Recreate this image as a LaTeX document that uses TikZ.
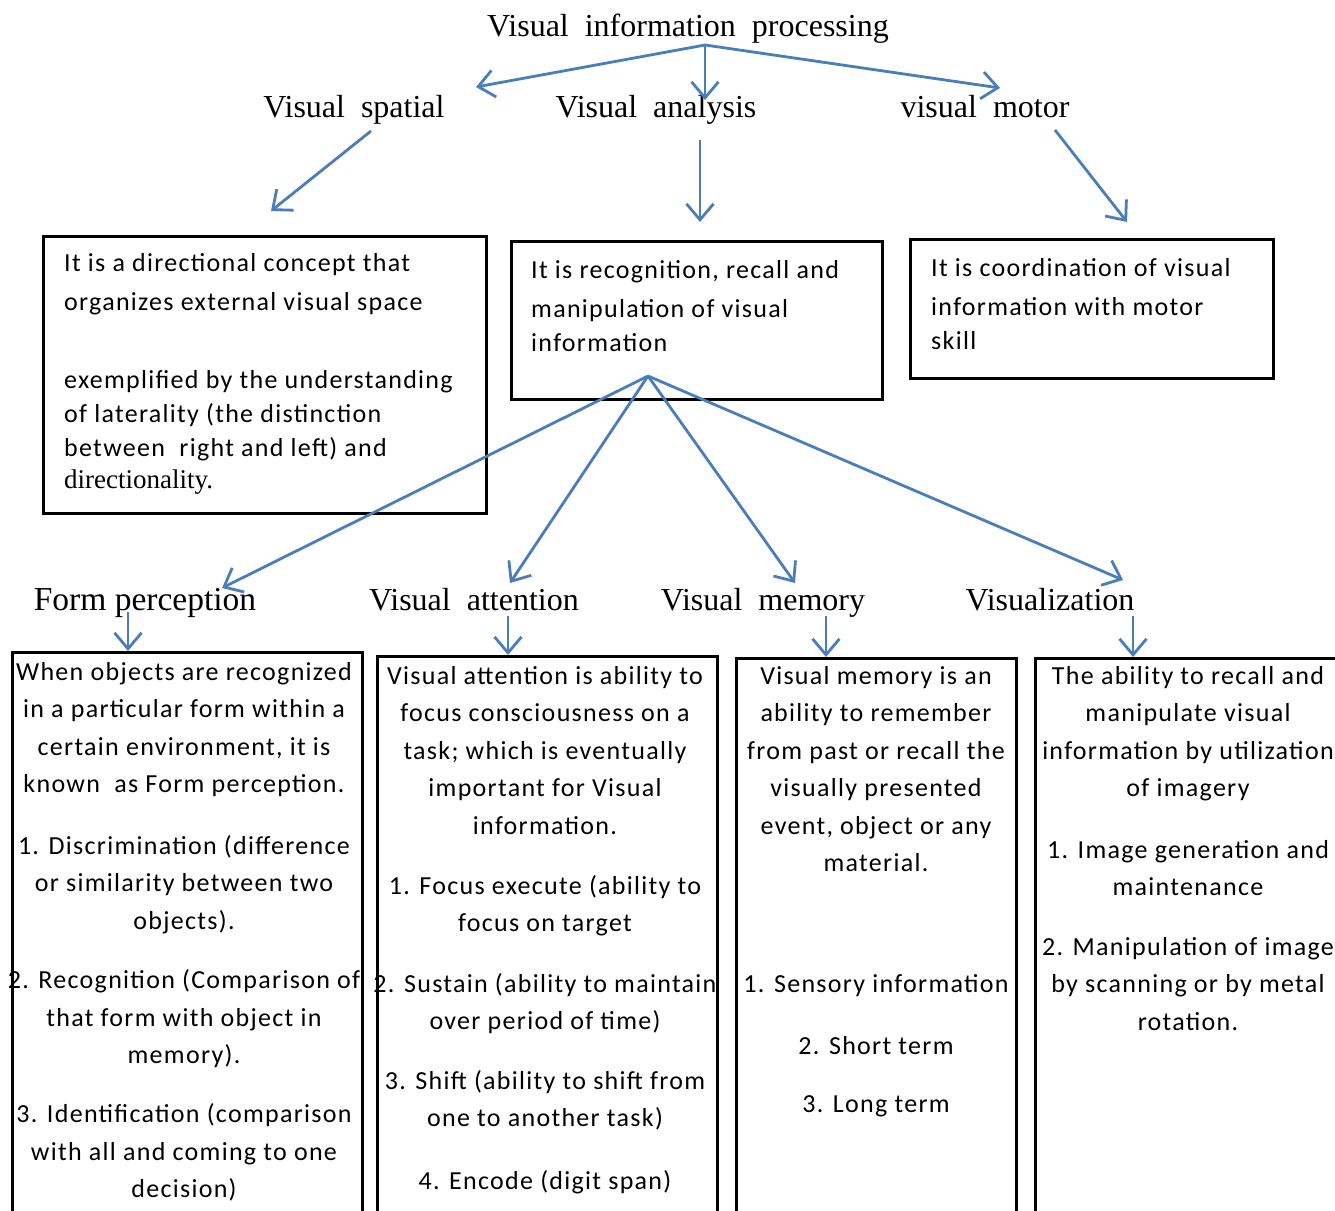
\documentclass[tikz,border=0pt]{standalone}
\usepackage{fontspec}
\setmainfont{Liberation Serif}
\newfontfamily\bodyfont[LetterSpace=5]{Carlito}
\usetikzlibrary{arrows.meta}
\definecolor{linkblue}{RGB}{74,126,187}

\begin{document}
\begin{tikzpicture}[x=1pt,y=-1pt,
  heading/.style={font=\fontsize{32}{36}\selectfont, inner sep=0pt, anchor=base},
  box/.style={draw=black, line width=2.8pt, inner sep=0pt, anchor=north west},
  body/.style={font=\bodyfont\fontsize{26}{37.5}\selectfont, inner sep=0pt},
  topbody/.style={font=\bodyfont\fontsize{26}{34}\selectfont, inner sep=0pt, anchor=north west, align=left},
  link/.style={draw=linkblue, line width=2.8pt, -{Straight Barb[length=16pt,width=27pt]}}
]
\useasboundingbox (0,0) rectangle (1335,1210);
\clip (0,0) rectangle (1335,1210);

% headings
\node[heading] (vip) at (688,36) {Visual\ \ information\ \ processing};
\node[heading] (vsp) at (354,117) {Visual\ \ spatial};
\node[heading] (van) at (656,117) {Visual\ \ analysis};
\node[heading] (vmo) at (985,117) {visual\ \ motor};
\node[heading, font=\fontsize{33.5}{36}\selectfont] (fpe) at (145,610) {Form perception};
\node[heading] (vat) at (474,610) {Visual\ \ attention};
\node[heading] (vme) at (763,610) {Visual\ \ memory};
\node[heading] (viz) at (1050,610) {Visualization};

% upper boxes
\node[box, minimum width=443pt, minimum height=277pt] (vsbox) at (42,235) {};
\node[box, minimum width=371pt, minimum height=158pt] (vabox) at (510,240) {};
\node[box, minimum width=363pt, minimum height=139pt] (vmbox) at (909,238) {};

\node[topbody] (vstext) at (64,253) {It is a directional concept that\\[5pt]
organizes external visual space\\[44pt]
exemplified by the understanding\\
of laterality (the distinction\\
between\ \ right and left) and\\[-2pt]
{\rmfamily\fontsize{27}{34}\selectfont directionality.}};
\node[topbody] (vatext) at (531,260) {It is recognition, recall and\\[5pt]
manipulation of visual\\
information};
\node[topbody] (vmtext) at (931,258) {It is coordination of visual\\[5pt]
information with motor\\
skill};

% lower boxes, running past the lower edge
\node[box, minimum width=350pt, minimum height=600pt] (fpbox) at (11,651) {};
\node[box, minimum width=340pt, minimum height=600pt] (vatbox) at (376,655) {};
\node[box, minimum width=280pt, minimum height=600pt] (vmebox) at (735,657) {};
\node[box, minimum width=320pt, minimum height=600pt] (vizbox) at (1034,657) {};

\node[body, anchor=north, align=center] (fptext) at (184,662) {When objects are recognized\\
in a particular form within a\\
certain environment, it is\\
known\ \ as Form perception.\\[24pt]
1. Discrimination (difference\\
or similarity between two\\
objects).\\[22pt]
2. Recognition (Comparison of\\
that form with object in\\
memory).\\[21.5pt]
3. Identification (comparison\\
with all and coming to one\\
decision)};

\node[body, anchor=north, align=center] (vattext) at (545,666) {Visual attention is ability to\\
focus consciousness on a\\
task; which is eventually\\
important for Visual\\
information.\\[22.5pt]
1. Focus execute (ability to\\
focus on target\\[23pt]
2. Sustain (ability to maintain\\
over period of time)\\[22pt]
3. Shift (ability to shift from\\
one to another task)\\[25pt]
4. Encode (digit span)};

\node[body, anchor=north, align=center] (vmetext) at (876,666) {Visual memory is an\\
ability to remember\\
from past or recall the\\
visually presented\\
event, object or any\\
material.\\[83pt]
1. Sensory information\\[24.5pt]
2. Short term\\[20.5pt]
3. Long term};

\node[body, anchor=north, align=center] (viztext) at (1188,666) {The ability to recall and\\
manipulate visual\\
information by utilization\\
of imagery\\[24pt]
1. Image generation and\\
maintenance\\[22pt]
2. Manipulation of image\\
by scanning or by metal\\
rotation.};

% connector end points
\coordinate (vipfork) at (705,45);
\coordinate (vspend) at (476,87);
\coordinate (vanend) at (705,100);
\coordinate (vmoend) at (1000,88);
\coordinate (vspfoot) at (371,131);
\coordinate (vsptip) at (271,211);
\coordinate (vanfoot) at (700,140);
\coordinate (vantip) at (700,222);
\coordinate (vmofoot) at (1055,130);
\coordinate (vmotip) at (1127,222);
\coordinate (vafork) at (648,376);
\coordinate (fpetip) at (222,588);
\coordinate (vattip) at (510,583);
\coordinate (vmetip) at (795,583);
\coordinate (viztip) at (1123,580);
\coordinate (fpefoot) at (128,612);
\coordinate (vatfoot) at (508,616);
\coordinate (vmefoot) at (826,616);
\coordinate (vizfoot) at (1133,616);

% connectors
\draw[link] (vipfork) -- (vspend);
\draw[link] (vipfork) -- (vanend);
\draw[link] (vipfork) -- (vmoend);
\draw[link] (vspfoot) -- (vsptip);
\draw[link] (vanfoot) -- (vantip);
\draw[link] (vmofoot) -- (vmotip);
\draw[link] (vafork) -- (fpetip);
\draw[link] (vafork) -- (vattip);
\draw[link] (vafork) -- (vmetip);
\draw[link] (vafork) -- (viztip);
\draw[link] (fpefoot) -- (fpbox.north -| fpefoot);
\draw[link] (vatfoot) -- (vatbox.north -| vatfoot);
\draw[link] (vmefoot) -- (vmebox.north -| vmefoot);
\draw[link] (vizfoot) -- (vizbox.north -| vizfoot);
\end{tikzpicture}
\end{document}
